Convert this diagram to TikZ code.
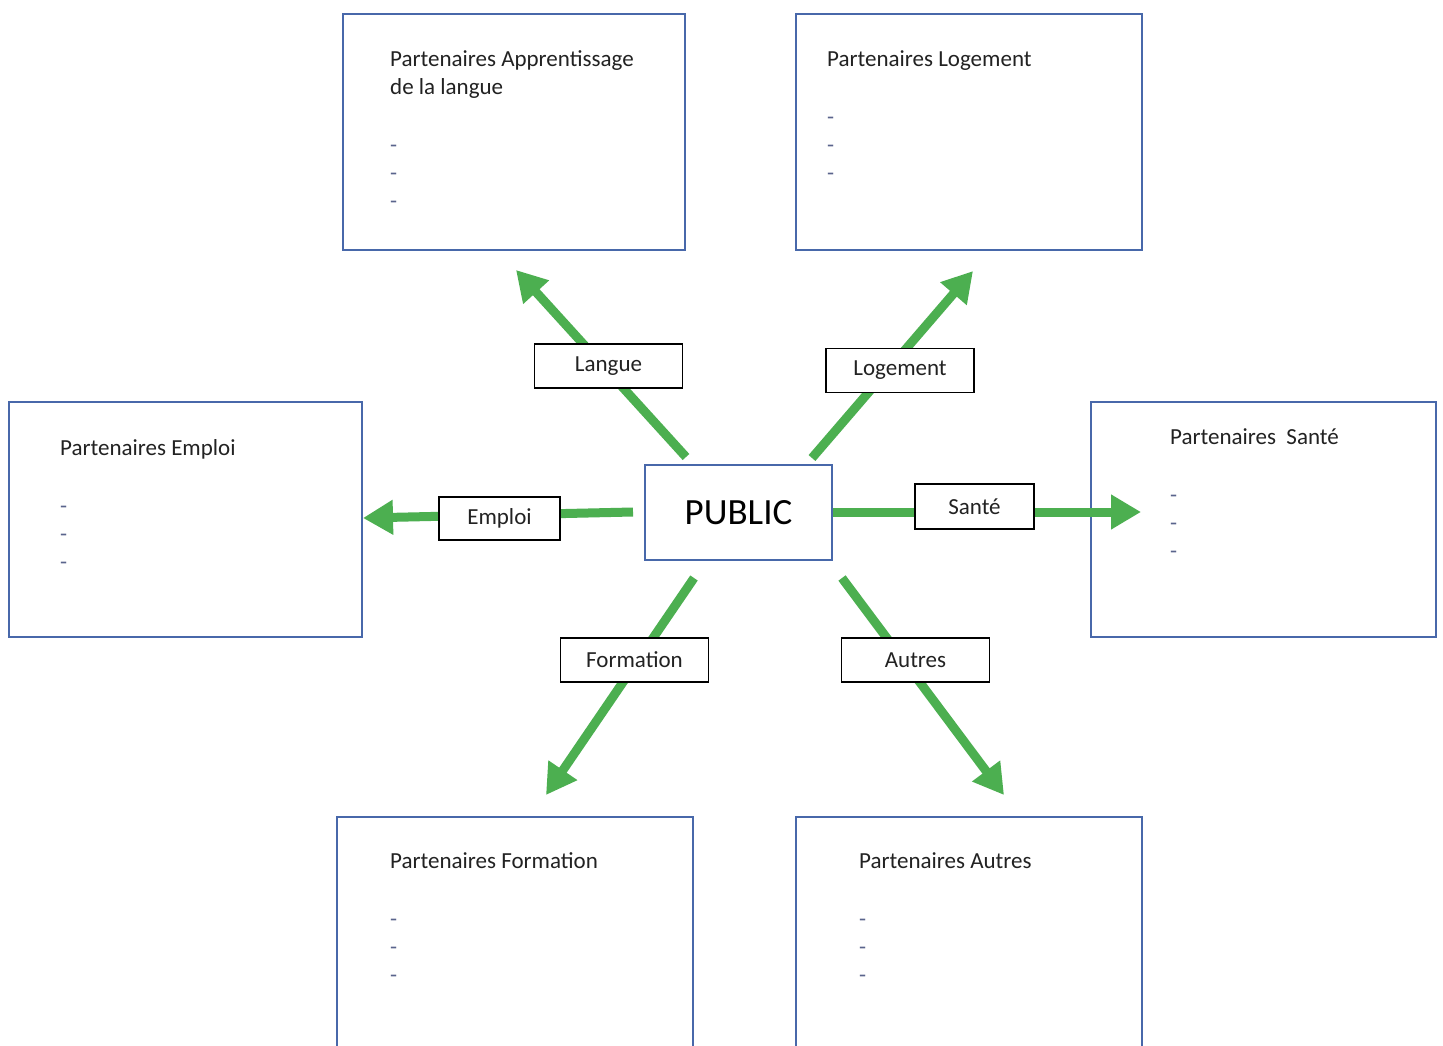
\documentclass[tikz,border=0pt]{standalone}
\usepackage{fontspec}
\setmainfont{Carlito}
\usetikzlibrary{arrows.meta}
\definecolor{pgreen}{RGB}{76,175,80}
\definecolor{pblue}{RGB}{72,104,170}
\definecolor{ptext}{RGB}{34,34,34}
\definecolor{pdash}{RGB}{90,100,140}
\tikzset{
  pbox/.style={draw=pblue, line width=1.8pt, fill=white, inner sep=0pt},
  ptitle/.style={anchor=north west, inner sep=0pt, align=left, text=ptext,
    font=\fontsize{23}{28}\selectfont},
  lbl/.style={draw=black, line width=1.8pt, fill=white, inner sep=0pt,
    minimum width=148pt, minimum height=44pt, text=ptext,
    font=\fontsize{23}{28}\selectfont},
  garrow/.style={draw=pgreen, line width=9pt,
    -{Triangle[length=30pt,width=33pt]}},
}
\newcommand{\dsh}{\textcolor{pdash}{-}}
\begin{document}
\begin{tikzpicture}[x=1pt,y=-1pt]
\clip (0,0) rectangle (1443,1046);
\fill[white] (0,0) rectangle (1443,1046);

% partner boxes
\node[pbox, minimum width=342pt, minimum height=236pt] (blang) at (514,132) {};
\node[pbox, minimum width=346pt, minimum height=236pt] (blog) at (969,132) {};
\node[pbox, minimum width=353pt, minimum height=235pt] (bemp) at (185.5,519.5) {};
\node[pbox, minimum width=345pt, minimum height=235pt] (bsan) at (1263.5,519.5) {};
\node[pbox, minimum width=356pt, minimum height=260pt] (bfor) at (515,947) {};
\node[pbox, minimum width=346pt, minimum height=260pt] (baut) at (969,947) {};

% box texts
\node[ptitle] (tlang) at (390,50) {Partenaires Apprentissage\\de la langue\\[30pt]\dsh\\\dsh\\\dsh};
\node[ptitle] (tlog) at (827,50) {Partenaires Logement\\[30pt]\dsh\\\dsh\\\dsh};
\node[ptitle] (temp) at (60,439) {Partenaires Emploi\\[30pt]\dsh\\\dsh\\\dsh};
\node[ptitle] (tsan) at (1170,428) {Partenaires\ \ Santé\\[30pt]\dsh\\\dsh\\\dsh};
\node[ptitle] (tfor) at (390,852) {Partenaires Formation\\[30pt]\dsh\\\dsh\\\dsh};
\node[ptitle] (taut) at (859,852) {Partenaires Autres\\[30pt]\dsh\\\dsh\\\dsh};

% centre
\node[pbox, minimum width=187pt, minimum height=95pt, text=black,
  font=\fontsize{37}{44}\selectfont] (pub) at (738.5,512.5) {PUBLIC};

% arrow end points
\coordinate (sl) at (686,457);  \coordinate (el) at (516,270);
\coordinate (sg) at (812,458);  \coordinate (eg) at (973,271);
\coordinate (se) at (633,512);  \coordinate (ee) at (363,518);
\coordinate (ss) at (833,512);  \coordinate (es) at (1141,512);
\coordinate (sf) at (694,578);  \coordinate (ef) at (546,795);
\coordinate (sa) at (842,578);  \coordinate (ea) at (1004,795);

\draw[garrow] (sl) -- (el);
\draw[garrow] (sg) -- (eg);
\draw[garrow] (se) -- (ee);
\draw[garrow] (ss) -- (es);
\draw[garrow] (sf) -- (ef);
\draw[garrow] (sa) -- (ea);

% labels
\node[lbl] (llang) at (608.5,366) {Langue};
\node[lbl] (llog) at (900,370.5) {Logement};
\node[lbl, minimum width=121pt, minimum height=43pt] (lemp) at (499.5,518.5) {Emploi};
\node[lbl, minimum width=119pt, minimum height=45pt] (lsan) at (974.5,506.5) {Santé};
\node[lbl] (lfor) at (634.5,660) {Formation};
\node[lbl] (laut) at (915.5,660) {Autres};
\end{tikzpicture}
\end{document}
